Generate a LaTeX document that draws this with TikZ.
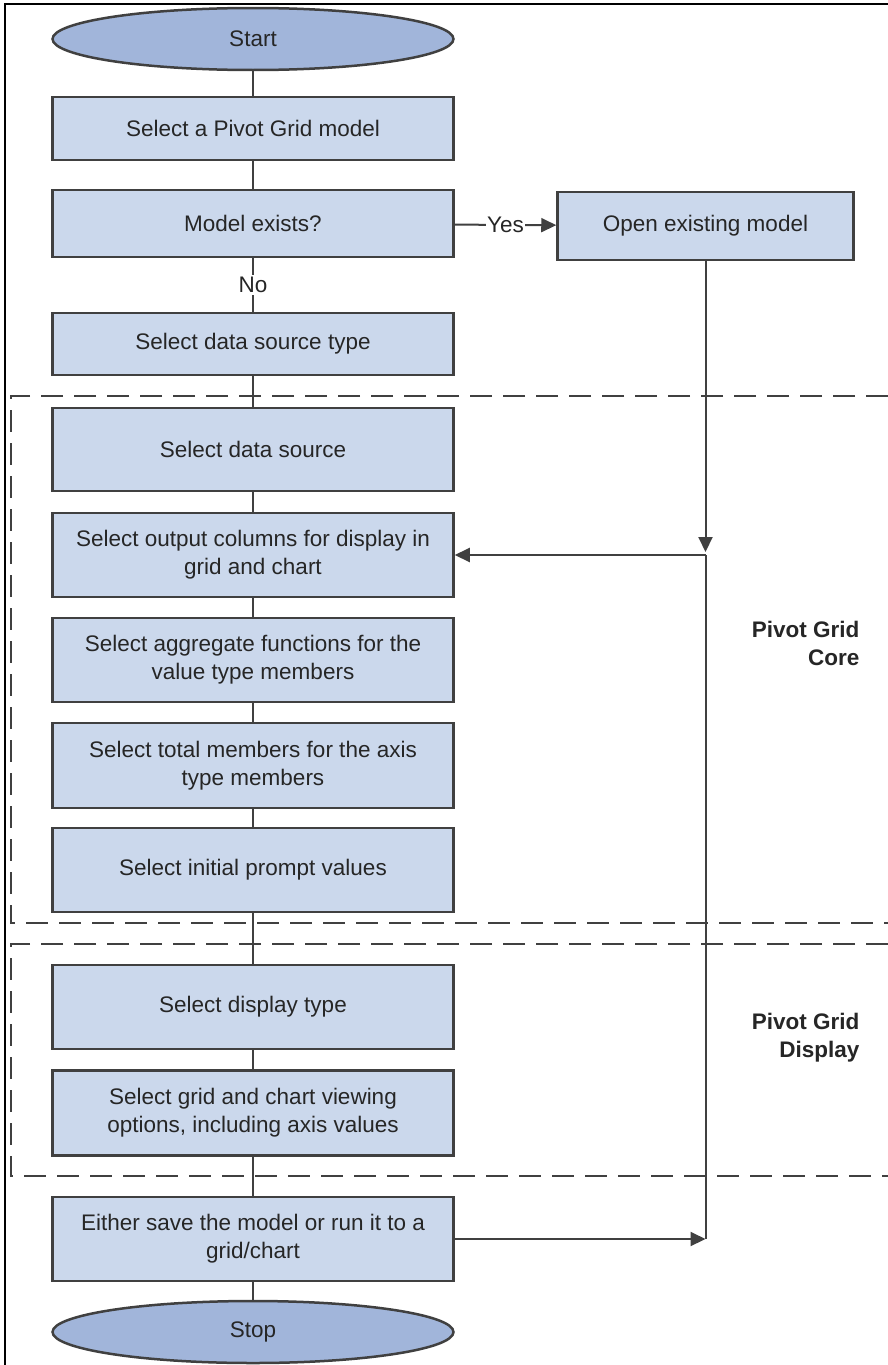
\documentclass[tikz,border=0pt]{standalone}
\usepackage{fontspec}
\setmainfont{Liberation Sans}
\usetikzlibrary{shapes.geometric,arrows.meta}
\definecolor{boxfill}{HTML}{CBD8EC}
\definecolor{endfill}{HTML}{A1B5DA}
\definecolor{edge}{HTML}{404040}
\definecolor{ink}{HTML}{262626}
\begin{document}
\begin{tikzpicture}[x=1pt, y=-1pt,
    every node/.style={font=\fontsize{22.5}{28}\selectfont, text=ink},
    stepbox/.style={rectangle, draw=edge, line width=2.5pt, fill=boxfill, minimum width=401pt, align=center, inner sep=0pt},
    terminal/.style={ellipse, draw=edge, line width=2.5pt, fill=endfill, minimum width=401pt, minimum height=62pt, inner sep=0pt},
    link/.style={draw=edge, line width=2pt},
    arrow/.style={link, -{Triangle[length=15pt,width=14pt]}},
    region/.style={draw=edge, line width=2.5pt, dash pattern=on 22pt off 11pt}]
    \fill[white] (0,0) rectangle (888,1365);
    \useasboundingbox (0,0) rectangle (888,1365);
    % frame
    \draw[line width=1.5pt, black] (888,4) -- (5,4) -- (5,1365);
    % regions
    \draw[region] (888,396) -- (11,396) -- (11,923) -- (888,923);
    \draw[region] (888,944) -- (11,944) -- (11,1176) -- (888,1176);
    \node[font=\bfseries\fontsize{22.5}{28}\selectfont, align=right, anchor=east] (corelbl) at (863,643) {Pivot Grid\\Core};
    \node[font=\bfseries\fontsize{22.5}{28}\selectfont, align=right, anchor=east] (displbl) at (863,1038) {Pivot Grid\\Display};
    % steps
    \node[terminal] (start) at (253,39) {Start};
    \node[stepbox, minimum height=63pt] (pgm) at (253,128.5) {Select a Pivot Grid model};
    \node[stepbox, minimum height=67pt] (exists) at (253,223.5) {Model exists?};
    \node[stepbox, minimum width=296pt, minimum height=68pt] (open) at (705.5,226) {Open existing model};
    \node[stepbox, minimum height=62pt] (dstype) at (253,344) {Select data source type};
    \node[stepbox, minimum height=83pt] (dsrc) at (253,449.5) {Select data source};
    \node[stepbox, minimum height=84pt] (outcols) at (253,555) {Select output columns for display in\\grid and chart};
    \node[stepbox, minimum height=84pt] (aggr) at (253,660) {Select aggregate functions for the\\value type members};
    \node[stepbox, minimum height=85pt] (total) at (253,765.5) {Select total members for the axis\\type members};
    \node[stepbox, minimum height=84pt] (prompt) at (253,870) {Select initial prompt values};
    \node[stepbox, minimum height=84pt] (disptype) at (253,1007) {Select display type};
    \node[stepbox, minimum height=85pt] (viewopt) at (253,1113) {Select grid and chart viewing\\options, including axis values};
    \node[stepbox, minimum height=84pt] (save) at (253,1239) {Either save the model or run it to a\\grid/chart};
    \node[terminal] (stop) at (253,1332) {Stop};
    % connectors
    \draw[link] (start) -- (pgm);
    \draw[link] (pgm) -- (exists);
    \draw[arrow] (exists) -- node[fill=white, inner sep=1pt] (yes) {Yes} (open);
    \draw[link] (exists) -- node[fill=white, inner sep=2pt] (no) {No} (dstype);
    \draw[link] (dstype) -- (dsrc);
    \draw[link] (dsrc) -- (outcols);
    \draw[link] (outcols) -- (aggr);
    \draw[link] (aggr) -- (total);
    \draw[link] (total) -- (prompt);
    \draw[link] (prompt) -- (disptype);
    \draw[link] (disptype) -- (viewopt);
    \draw[link] (viewopt) -- (save);
    \draw[link] (save) -- (stop);
    \coordinate (j1) at (open.south |- outcols.east);
    \coordinate (j2) at (open.south |- save.east);
    \draw[arrow, shorten >=3pt] (open) -- (j1);
    \draw[link] (j1) -- (j2);
    \draw[arrow] (j1) -- (outcols);
    \draw[arrow] (save) -- (j2);
\end{tikzpicture}
\end{document}
